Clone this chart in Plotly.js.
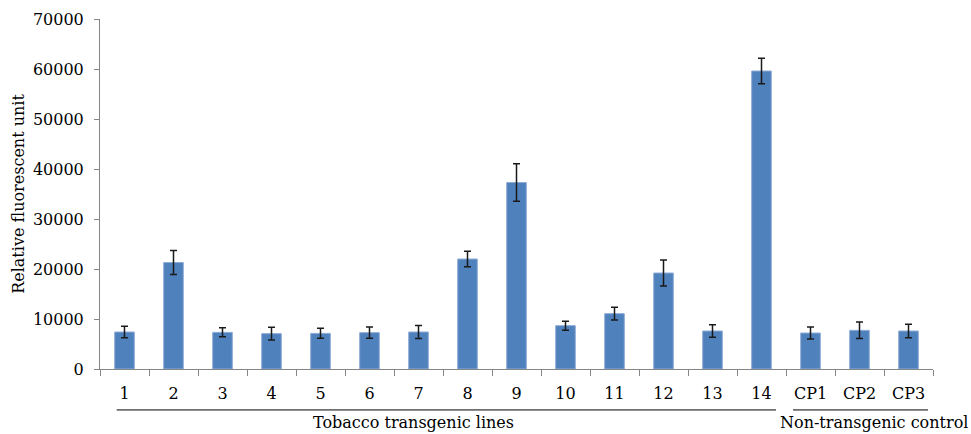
<!DOCTYPE html>
<html>
<head>
<meta charset="utf-8">
<script src="https://cdn.plot.ly/plotly-3.0.1.min.js"></script>
<style>html,body{margin:0;padding:0;background:#fff;}#chart{width:971px;height:434px;}</style>
</head>
<body>
<div id="chart"></div>
<script>
const categories = ["1","2","3","4","5","6","7","8","9","10","11","12","13","14","CP1","CP2","CP3"];
const values = [7400, 21300, 7330, 7070, 7130, 7270, 7400, 22000, 37300, 8670, 11070, 19200, 7600, 59600, 7200, 7730, 7600];
const errors = [1130, 2420, 900, 1270, 1000, 1130, 1300, 1530, 3770, 900, 1270, 2600, 1270, 2550, 1200, 1650, 1370];
const groupLabels = ["Tobacco transgenic lines", "Non-transgenic control"];
const yTitle = "Relative fluorescent unit";

const font = "DejaVu Serif, serif";
const fs = 16;
const trace = {
  type: "bar",
  x: categories,
  y: values,
  error_y: {type: "data", array: errors, visible: true, color: "#1a1a1a", thickness: 1.5, width: 3.5},
  marker: {color: "#4F81BD", line: {color: "#8EACD6", width: 1}},
  width: 0.4,
  hoverinfo: "x+y"
};
const layout = {
  width: 971, height: 434,
  margin: {l: 100, r: 38, t: 19, b: 65},
  paper_bgcolor: "#fff", plot_bgcolor: "#fff",
  showlegend: false,
  font: {family: font, size: fs, color: "#000"},
  xaxis: {
    type: "category",
    showline: true, linecolor: "#868686", linewidth: 1,
    ticks: "outside", tickson: "boundaries", ticklen: 6, tickcolor: "#868686",
    ticklabelstandoff: 10,
    showgrid: false, zeroline: false,
    tickfont: {family: font, size: fs, color: "#000"}
  },
  yaxis: {
    range: [0, 70000], dtick: 10000, tickformat: "d",
    showline: true, linecolor: "#868686", linewidth: 1,
    ticks: "outside", ticklen: 5, tickcolor: "#868686",
    ticklabelstandoff: 7,
    showgrid: false, zeroline: false,
    tickfont: {family: font, size: fs, color: "#000"},
    title: {text: yTitle, font: {family: font, size: fs, color: "#000"}, standoff: 4}
  },
  shapes: [
    {type: "line", xref: "paper", yref: "paper", x0: 0.020, x1: 0.8115, y0: -0.117, y1: -0.117, line: {color: "#000", width: 1}},
    {type: "line", xref: "paper", yref: "paper", x0: 0.832, x1: 0.994, y0: -0.117, y1: -0.117, line: {color: "#000", width: 1}}
  ],
  annotations: [
    {text: groupLabels[0], xref: "paper", yref: "paper", x: 0.376, y: -0.154, xanchor: "center", yanchor: "middle", showarrow: false, font: {family: font, size: fs, color: "#000"}},
    {text: groupLabels[1], xref: "paper", yref: "paper", x: 0.929, y: -0.154, xanchor: "center", yanchor: "middle", showarrow: false, font: {family: font, size: fs, color: "#000"}}
  ]
};
Plotly.newPlot("chart", [trace], layout, {displayModeBar: false, staticPlot: true});
</script>
</body>
</html>
